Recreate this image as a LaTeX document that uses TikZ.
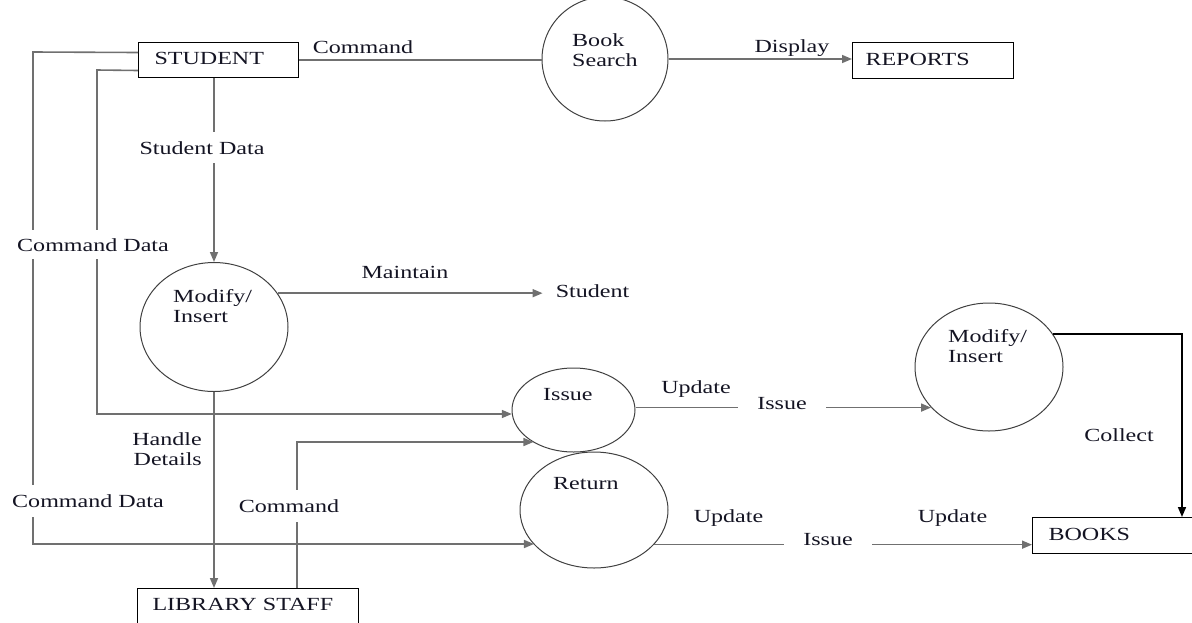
\documentclass[tikz,border=0pt]{standalone}
\usepackage{fontspec}
\setmainfont{Liberation Serif}[FakeStretch=1.3]
\usetikzlibrary{shapes.geometric,arrows.meta,calc}
\definecolor{lgray}{RGB}{112,112,112}
\definecolor{txt}{RGB}{20,20,35}
\begin{document}
\begin{tikzpicture}[x=1pt,y=-1pt,
  font=\fontsize{18.5}{19.5}\selectfont,
  every node/.style={text=txt},
  ent/.style={draw=black,line width=1pt,rectangle,minimum height=35pt,align=left,anchor=north west,text height=12.6pt,text depth=3pt,inner ysep=0pt},
  proc/.style={draw=black!75,line width=1pt,ellipse,inner sep=0pt},
  flow/.style={draw=lgray,line width=1.6pt},
  arr/.style={flow,-{Triangle[length=10pt,width=8pt]}},
  lbl/.style={inner sep=0pt,anchor=base},
  mask/.style={fill=white,inner xsep=2pt,inner ysep=9pt,anchor=base},
  ptxt/.style={inner sep=0pt,anchor=base west,align=left},
]
\useasboundingbox (0,0) rectangle (1192,622);

% entities
\node[ent,text width=128pt,inner xsep=16pt] (stu) at (138,42) {STUDENT};
\node[ent,text width=135pt,inner xsep=13pt,minimum height=36pt] (rep) at (852,42) {REPORTS};
\node[ent,text width=130pt,inner xsep=16pt,minimum height=36pt] (books) at (1032,517) {BOOKS};
\node[ent,text width=191pt,inner xsep=15pt] (staff) at (137,588) {LIBRARY STAFF};

% processes
\node[proc,minimum width=126pt,minimum height=124pt] (bs) at (605,59) {};
\node[proc,minimum width=148pt,minimum height=129pt] (m1) at (214,327) {};
\node[proc,minimum width=123pt,minimum height=84pt] (iss) at (573.5,410) {};
\node[proc,minimum width=148pt,minimum height=128pt] (m2) at (989,367) {};
\node[proc,minimum width=148pt,minimum height=116pt] (ret) at (594,510) {};

\node[ptxt] (bst) at (572,66) {Book\\Search};
\node[ptxt] (m1t) at (173,322) {Modify/\\Insert};
\node[ptxt] (isst) at (543,400) {Issue};
\node[ptxt] (m2t) at (948,362) {Modify/\\Insert};
\node[ptxt] (rett) at (553,489) {Return};
\node[lbl] (stu2) at (592.5,297) {Student};

% connectors
\coordinate (o1) at (33,52);
\coordinate (o2) at (33,544);
\draw[arr] ($(stu.west)+(0,-7.5)$) -- (o1) -- (o2) -- (o2 -| ret.210);
\coordinate (i1) at (97,70);
\coordinate (i2) at (97,414);
\draw[arr] ($(stu.west)+(0,10.5)$) -- (i1) -- (i2) -- (i2 -| iss.184);
\draw[arr] (stu.south -| m1.north) -- (m1.north);
\draw[arr] (m1.south) -- (m1.south |- staff.north);
\coordinate (c1) at (297,442);
\draw[arr] (c1 |- staff.north) -- (c1) -- (c1 -| iss.219);
\draw[flow] (stu.east) -- (stu.east -| bs.west);
\draw[arr] (bs.east) -- (bs.east -| rep.west);
\draw[arr,shorten >=13pt] (m1.28) -- (m1.28 -| stu2.west);
\draw[arr] (m2.215 -| iss.east) -- (m2.215);
\coordinate (k1) at (1182,334.5);
\draw[line width=1.6pt,draw=black,-{Triangle[length=10pt,width=8pt]}] (m2.27) -- (m2.27 -| k1) -- (k1 |- books.north);
\draw[arr] (ret.330) -- (ret.330 -| books.west);

% labels
\node[lbl] at (363,53) {Command};
\node[lbl] at (792,52) {Display};
\node[mask] at (202,154) {Student Data};
\node[mask,inner ysep=8pt] at (93,251) {Command Data};
\node[mask,inner ysep=9.5pt] at (88,507) {Command Data};
\node[mask,inner ysep=9.5pt] at (289,512) {Command};
\node[lbl] at (405,278) {Maintain};
\node[ptxt,align=right,anchor=base east] at (202,465) {Handle\\Details};
\node[lbl] at (696,393) {Update};
\node[mask,inner xsep=19pt,inner ysep=3pt] at (782,409) {Issue};
\node[lbl] at (1119,441) {Collect};
\node[lbl] at (728.5,522) {Update};
\node[mask,inner xsep=19pt,inner ysep=3pt] at (828,545) {Issue};
\node[lbl] at (952.5,522) {Update};
\end{tikzpicture}
\end{document}
